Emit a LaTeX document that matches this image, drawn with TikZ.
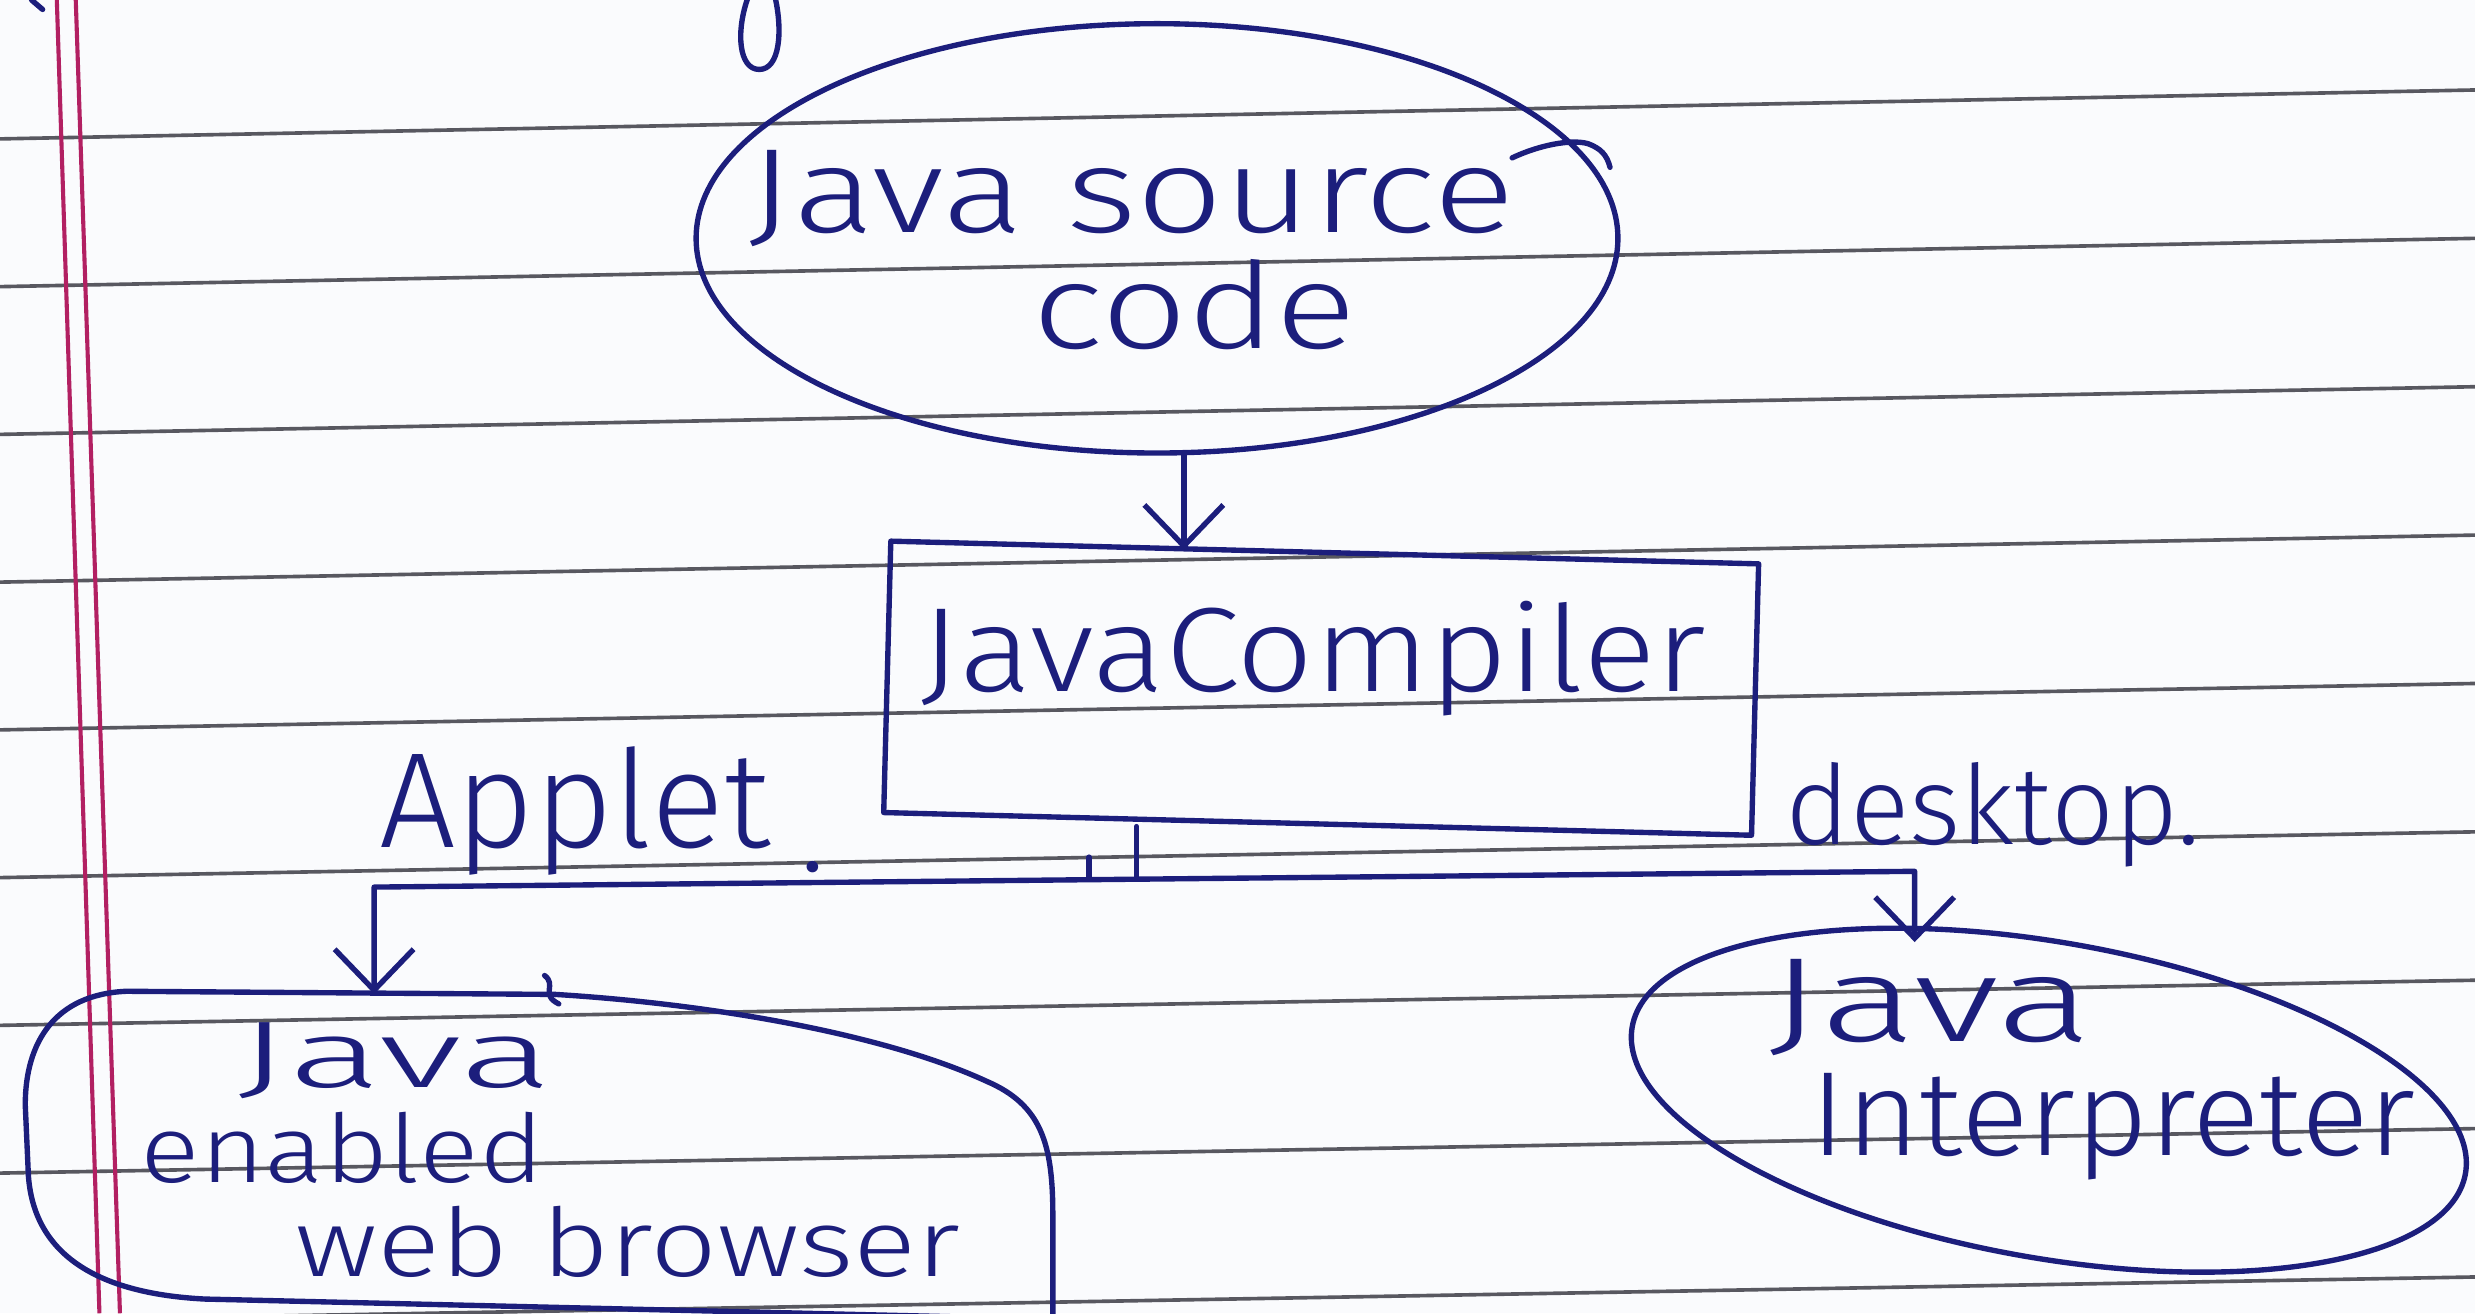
\documentclass[tikz,border=0pt]{standalone}
\usepackage{fontspec}
\setmainfont{Fira Sans Light}
\usetikzlibrary{arrows.meta,shapes.geometric}
\definecolor{ink}{RGB}{28,30,124}
\definecolor{rule}{RGB}{88,88,96}
\definecolor{margin}{RGB}{178,32,98}
\definecolor{paper}{RGB}{250,251,253}
% widen a handwritten word horizontally
\newcommand\handx[2]{\scalebox{#1}[1]{#2}}
\begin{document}
\begin{tikzpicture}[x=1pt,y=-1pt,
  pen/.style={draw=ink,line width=3.4pt,line cap=round,line join=round},
  arr/.style={pen,-{Straight Barb[length=26pt,width=50pt]}},
  hand/.style={text=ink,inner sep=0pt,font=\fontsize{76}{80}\selectfont},
  small hand/.style={hand,font=\fontsize{60}{64}\selectfont},
  ruled/.style={draw=rule,line width=2.3pt},
  marginline/.style={draw=margin,line width=2.6pt}]
% page of ruled paper
\clip (0,0) rectangle (1568,832);
\fill[paper] (0,0) rectangle (1568,832);
\foreach \k in {0,...,8} \draw[ruled] (0,{88+93.6*\k}) -- (1568,{57+94*\k});
\draw[marginline] (36,0) -- (63,832);
\draw[marginline] (48,0) -- (76,832);

% stray pen strokes of the heading above
\draw[pen] (474,-2) .. controls (466,20) and (468,44) .. (481,44) .. controls (494,44) and (496,20) .. (491,-2);
\draw[pen] (20,0) -- (27,6);

% source code
\node[ellipse,pen,minimum width=584pt,minimum height=272pt,inner sep=0pt] (src) at (733,151) {};
\draw[pen] (958,100) .. controls (975,92) and (995,88) .. (1006,91) .. controls (1014,94) and (1018,98) .. (1020,106);
\node[hand,anchor=base] (srcA) at (717,147) {\handx{1.27}{Java source}};
\node[hand,anchor=base] (srcB) at (757,221) {\handx{1.26}{code}};

% compiler
\node[pen,rectangle,minimum width=550pt,minimum height=172pt,inner sep=0pt,rotate=-1.5] (comp) at (837,436) {};
\node[hand,anchor=base] (compt) at (832,438) {\handx{1.13}{JavaCompiler}};

% interpreter
\node[ellipse,pen,minimum width=536pt,minimum height=200pt,inner sep=0pt,rotate=-10] (interp) at (1298,697) {};
\node[hand,anchor=base west] (interpA) at (1120,660) {\handx{1.5}{Java}};
\node[hand,anchor=base west] (interpB) at (1147,732) {\handx{1.05}{Interpreter}};

% browser
\node[inner sep=0pt,minimum width=650pt,minimum height=210pt] (browser) at (342,735) {};
\draw[pen] (352,630) .. controls (450,636) and (560,655) .. (625,685) .. controls (660,700) and (667,725) .. (667,770) -- (667,845);
\draw[pen] (352,630) -- (80,628) .. controls (35,630) and (16,660) .. (16,700) -- (18,745) .. controls (22,800) and (70,820) .. (130,823) -- (680,836);
\draw[pen] (345,618) .. controls (353,624) and (342,630) .. (354,636);
\node[small hand,anchor=base west] (brA) at (150,689) {\handx{1.85}{Java}};
\node[small hand,anchor=base west] (brB) at (89,749) {\handx{1.17}{enabled}};
\node[small hand,anchor=base west] (brC) at (187,809) {\handx{1.24}{web browser}};

% connectors
\coordinate (j) at (720,557);
\coordinate (lb) at (237,562);
\coordinate (rb) at (1213,552);
\coordinate (a) at (750,0);
\draw[arr] (a |- src.south) -- (a |- comp.north);
\draw[pen] (comp.south -| j) -- (j);
\draw[arr] (j) -- (lb) -- (lb |- browser.north);
\draw[arr] (j) -- (rb) -- (rb |- interp.north);
\draw[pen] (690,543) -- (690,557);

% branch labels
\node[hand,anchor=base west,font=\fontsize{86}{90}\selectfont] (applet) at (240,537) {Applet};
\node[hand,anchor=base] (appdot) at (515,552) {.};
\node[hand,anchor=base west,font=\fontsize{70}{74}\selectfont] (desk) at (1131,535) {desktop.};
\end{tikzpicture}
\end{document}
